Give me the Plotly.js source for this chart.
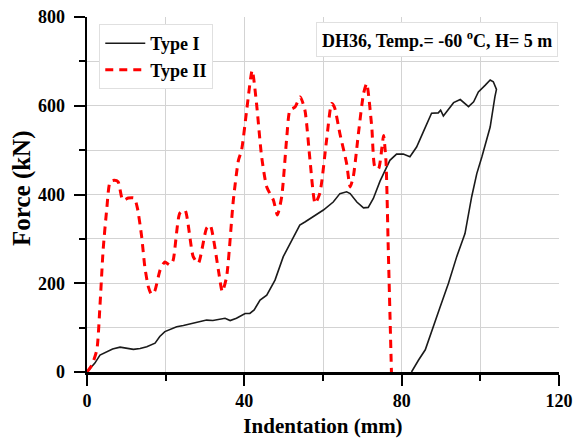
<!DOCTYPE html>
<html>
<head>
<meta charset="utf-8">
<script src="https://cdn.plot.ly/plotly-3.0.1.min.js"></script>
<style>html,body{margin:0;padding:0;background:#fff;}#chart{width:576px;height:444px;}</style>
</head>
<body>
<div id="chart"></div>
<script>
// Type I (black solid) — loading then unloading
const type1X = [0, 1, 2, 3.3, 5, 6.5, 8.4, 10, 11.8, 13.5, 15.2, 17.3, 18.5, 19.8, 21, 22.8, 24.5, 26.2, 28, 30.4, 32, 33.8, 35.1, 36.4, 38, 40.2, 41.4, 42.5, 44, 45.7, 47.8, 49.9, 52, 54.1, 55.4, 57.5, 60.1, 62.6, 64.3, 66, 66.9, 68.6, 70.3, 71.5, 72.8, 74.5, 75.8, 77, 78.7, 80.4, 82.1, 83.8, 85.5, 87.6, 89.3, 89.9, 90.6, 92.3, 93.2, 94.9, 97, 98.3, 99.5, 101.2, 102.5, 103.3, 104.1, 103.7, 102.5, 100.4, 99.1, 97.8, 96.1, 94, 91.9, 89.8, 88.1, 86, 84.3, 83, 82.5];
const type1Y = [0, 10, 20, 38, 46, 52, 56, 54, 51, 53, 57, 65, 80, 91, 96, 102, 105, 108, 112, 117, 116, 119, 121, 116, 121, 132, 132, 140, 162, 173, 207, 260, 297, 331, 338, 350, 365, 383, 402, 406, 402, 383, 370, 371, 391, 430, 455, 477, 491, 491, 485, 507, 541, 583, 584, 590, 577, 598, 607, 614, 598, 609, 631, 646, 658, 654, 637, 620, 552, 485, 447, 395, 312, 260, 200, 147, 102, 50, 27, 5, 0];

// Type II (red dashed)
const type2X = [0, 1.2, 2.5, 3.3, 4.1, 5, 5.9, 7, 7.9, 9.1, 10.5, 12, 12.8, 13.9, 14.7, 15.6, 16.4, 17.2, 18.6, 19.8, 21.1, 21.9, 23.6, 24.9, 27, 28.3, 30.4, 31.3, 33.4, 34.4, 35.5, 37.2, 38.5, 39.3, 40.6, 42, 43.1, 44.4, 45.7, 47.4, 48.4, 49.5, 50.8, 51.6, 52.9, 54.2, 55.4, 56.7, 58, 59.2, 60.9, 62.2, 62.9, 64.3, 66, 66.9, 67.7, 69, 70.3, 71.1, 72.4, 73.2, 74.1, 75, 75.4, 76, 76.6, 77.4];
const type2Y = [0, 15, 50, 150, 275, 365, 429, 432, 429, 387, 392, 392, 370, 305, 237, 192, 175, 182, 230, 248, 241, 252, 358, 365, 260, 245, 324, 331, 230, 181, 215, 387, 477, 500, 590, 680, 605, 485, 417, 387, 354, 395, 530, 590, 597, 620, 590, 477, 380, 403, 522, 605, 597, 537, 470, 417, 440, 537, 627, 650, 552, 462, 458, 507, 533, 477, 275, 0];

const seriesNames = ["Type I", "Type II"];
const xTitle = "Indentation (mm)";
const yTitle = "Force (kN)";
const noteText = "DH36, Temp.= -60 <sup>o</sup>C, H= 5 m";

const serif = "Liberation Serif, Times New Roman, serif";
const gridC = "#d3d3d3";

const traces = [
  {x: type1X, y: type1Y, type: "scatter", mode: "lines", name: seriesNames[0],
   line: {color: "#1a1a1a", width: 1.6}},
  {x: type2X, y: type2Y, type: "scatter", mode: "lines", name: seriesNames[1],
   line: {color: "#ff0000", width: 3, dash: "8px,6px", shape: "spline", smoothing: 0.6}}
];

const layout = {
  width: 576, height: 444,
  margin: {l: 87, r: 17, t: 17, b: 72},
  paper_bgcolor: "#fff", plot_bgcolor: "#fff",
  font: {family: serif, color: "#000"},
  showlegend: true,
  legend: {x: 0.026, y: 0.98, xanchor: "left", yanchor: "top",
    bgcolor: "#fff", bordercolor: "#e0e0e0", borderwidth: 1,
    font: {family: serif, size: 18, color: "#000", weight: "bold"},
    itemwidth: 40, tracegroupgap: 0},
  xaxis: {range: [0, 120], dtick: 40, tick0: 0,
    showline: true, linecolor: "#000", linewidth: 2.5,
    ticks: "outside", ticklen: 11, tickwidth: 2, tickcolor: "#000",
    showgrid: true, gridcolor: gridC, gridwidth: 1, zeroline: false,
    minor: {dtick: 20, showgrid: true, gridcolor: gridC, gridwidth: 1, ticks: "outside", ticklen: 6, tickwidth: 2, tickcolor: "#000"},
    tickfont: {family: serif, size: 18, color: "#000", weight: "bold"},
    ticklabelstandoff: 0,
    title: {text: xTitle, font: {family: serif, size: 21, color: "#000", weight: "bold"}, standoff: 8}},
  yaxis: {range: [0, 800], dtick: 200, tick0: 0,
    showline: true, linecolor: "#000", linewidth: 2.5,
    ticks: "outside", ticklen: 11, tickwidth: 2, tickcolor: "#000",
    showgrid: true, gridcolor: gridC, gridwidth: 1, zeroline: false,
    minor: {dtick: 100, showgrid: true, gridcolor: gridC, gridwidth: 1, ticks: "outside", ticklen: 6, tickwidth: 2, tickcolor: "#000"},
    tickfont: {family: serif, size: 18, color: "#000", weight: "bold"},
    ticklabelstandoff: 5},
  annotations: [{
    xref: "paper", yref: "paper", x: -0.138, y: 0.518, xanchor: "center", yanchor: "middle",
    text: yTitle, textangle: -90, showarrow: false,
    font: {family: serif, size: 25, color: "#000", weight: "bold"}
  }, {
    xref: "paper", yref: "paper", x: 0.998, y: 0.986, xanchor: "right", yanchor: "top",
    text: noteText, showarrow: false,
    font: {family: serif, size: 18, color: "#000", weight: "bold"},
    bgcolor: "#fff", bordercolor: "#e0e0e0", borderwidth: 1, borderpad: 5
  }]
};

Plotly.newPlot("chart", traces, layout, {displayModeBar: false, staticPlot: true});
</script>
</body>
</html>
